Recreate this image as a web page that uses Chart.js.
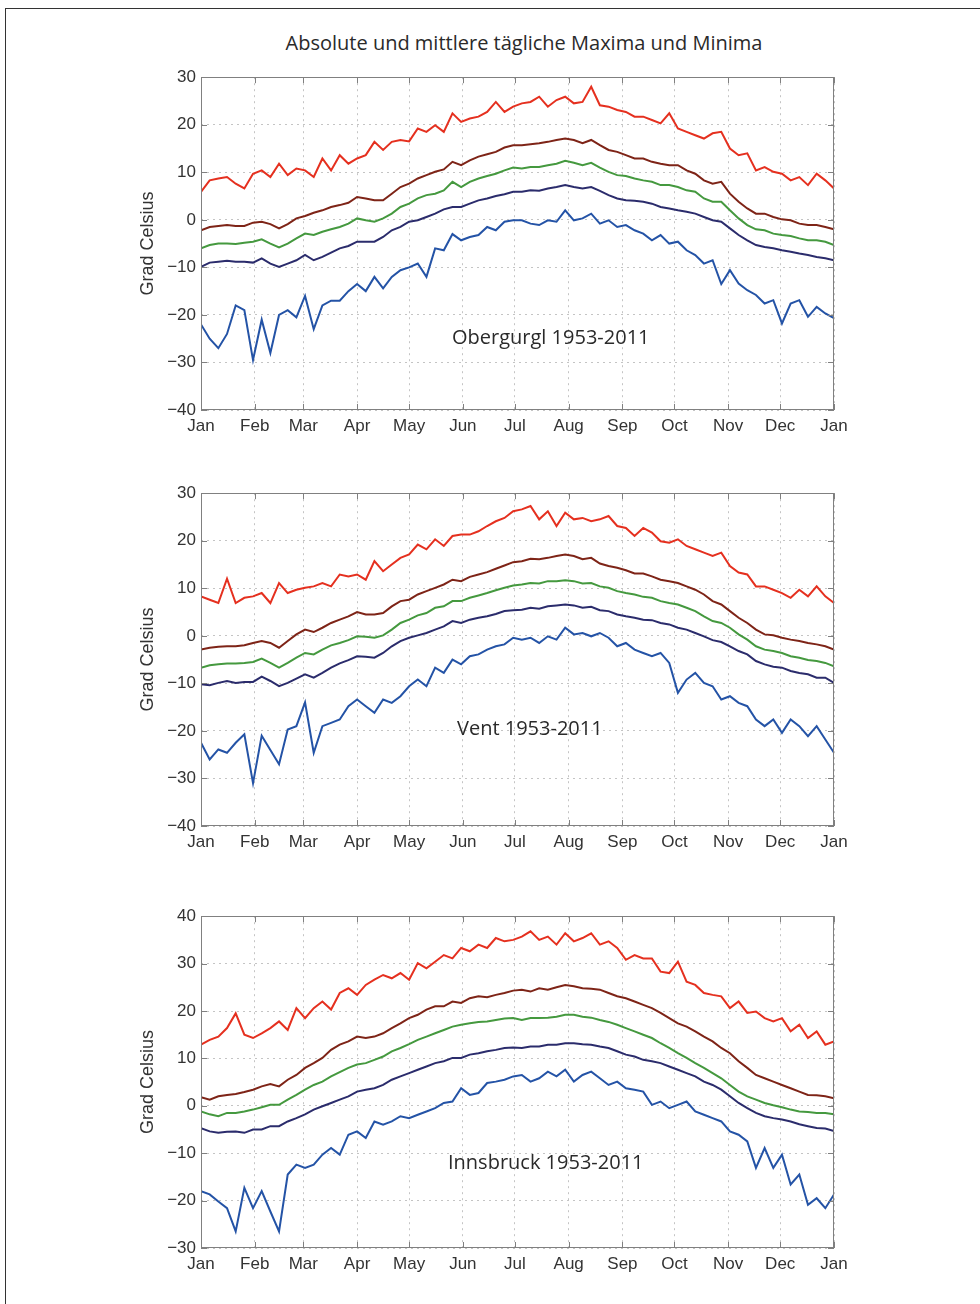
<!DOCTYPE html>
<html>
<head>
<meta charset="utf-8">
<script src="https://cdn.jsdelivr.net/npm/chart.js@4.4.1/dist/chart.umd.min.js"></script>
<style>
  body { margin: 0; background: #fff; }
  #page { position: relative; width: 980px; height: 1304px; overflow: hidden; background: #fff; }
  #frame { position: absolute; left: 5px; top: 8px; width: 990px; height: 1310px;
           border-left: 1.5px solid #333; border-top: 1.5px solid #333; }
  .txt { position: absolute; font-family: "Open Sans", "Noto Sans", sans-serif; color: #2a2a2a;
         white-space: nowrap; line-height: 24px; }
  #title { left: 224px; width: 600px; top: 31px; text-align: center; font-size: 20px; }
  canvas { position: absolute; }
</style>
</head>
<body>
<div id="page">
  <div id="frame"></div>
  <div id="title" class="txt">Absolute und mittlere tägliche Maxima und Minima</div>
  <canvas id="c1"></canvas>
  <canvas id="c2"></canvas>
  <canvas id="c3"></canvas>
  <div class="txt" style="left:452px; top:325px; font-size:20px;">Obergurgl 1953-2011</div>
  <div class="txt" style="left:457px; top:716px; font-size:20px;">Vent 1953-2011</div>
  <div class="txt" style="left:448px; top:1150px; font-size:20px;">Innsbruck 1953-2011</div>
</div>

<script>
/* ===============================
   Data (day of year, every 5 days)
================================ */
const days = [];
for (let d = 0; d <= 365; d += 5) days.push(d);

const monthStarts = [0, 31, 59, 90, 120, 151, 181, 212, 243, 273, 304, 334, 365];
const monthNames  = ["Jan","Feb","Mar","Apr","May","Jun","Jul","Aug","Sep","Oct","Nov","Dec","Jan"];

/* Obergurgl */
const absMax1 = [5.9,8.3,8.7,9.0,7.6,6.6,9.7,10.4,9.0,11.8,
  9.4,10.8,10.4,9.0,12.9,10.4,13.6,11.8,12.9,13.6,
  16.4,14.7,16.4,16.8,16.5,19.2,18.5,19.9,18.5,22.4,
  20.6,21.3,21.7,22.7,24.8,22.7,23.8,
  24.5,24.8,25.9,23.8,25.2,25.9,24.5,24.8,28.0,24.1,
  23.8,23.1,22.7,21.7,21.7,21.0,20.3,22.4,19.2,18.5,
  17.8,17.1,18.2,18.5,15.0,13.6,14.0,10.4,11.1,10.1,
  9.7,8.3,9.0,7.3,9.7,8.3,6.6];
const meanMax1 = [-2.2,-1.5,-1.3,-1.1,-1.3,-1.3,-0.6,-0.4,-0.9,-1.8,
  -0.9,0.3,0.8,1.5,2.0,2.7,3.1,3.6,4.8,4.5,
  4.1,4.1,5.5,6.9,7.6,8.7,9.4,10.1,10.6,12.2,
  11.5,12.5,13.3,13.8,14.3,15.2,15.7,
  15.7,15.9,16.1,16.4,16.8,17.1,16.8,16.1,16.8,15.7,
  14.7,14.3,13.6,12.9,12.9,12.2,11.8,11.5,11.5,10.4,
  9.7,8.3,7.6,8.0,5.5,3.8,2.4,1.3,1.3,0.6,
  0.1,-0.1,-0.8,-1.1,-1.1,-1.5,-2.0];
const mean1 = [-6.0,-5.3,-5.0,-5.0,-5.1,-4.8,-4.6,-4.1,-5.0,-5.8,
  -5.0,-3.9,-2.9,-3.2,-2.5,-2.0,-1.5,-0.8,0.3,-0.1,
  -0.4,0.3,1.3,2.7,3.4,4.5,5.2,5.5,6.2,8.0,
  6.9,8.0,8.7,9.2,9.7,10.4,11.0,
  10.8,11.1,11.1,11.5,11.8,12.4,12.0,11.5,12.0,11.0,
  10.1,9.4,9.2,8.7,8.3,8.0,7.3,7.3,6.9,6.2,
  5.9,4.5,3.8,3.8,2.0,0.3,-1.1,-2.0,-2.2,-2.9,
  -3.2,-3.4,-3.9,-4.3,-4.3,-4.6,-5.3];
const meanMin1 = [-9.9,-9.0,-8.8,-8.6,-8.8,-8.8,-9.0,-8.1,-9.2,-9.9,
  -9.2,-8.5,-7.4,-8.5,-7.8,-6.9,-6.0,-5.5,-4.6,-4.6,
  -4.6,-3.6,-2.2,-1.5,-0.4,-0.1,0.6,1.3,2.2,2.7,
  2.7,3.4,4.1,4.5,5.0,5.4,5.9,
  5.9,6.2,6.1,6.6,6.9,7.3,6.9,6.6,6.9,6.1,
  5.2,4.5,4.1,4.0,3.8,3.4,2.7,2.4,2.0,1.7,
  1.3,0.6,-0.1,-0.4,-1.8,-3.2,-4.3,-5.3,-5.7,-6.0,
  -6.4,-6.7,-7.1,-7.4,-7.8,-8.1,-8.5];
const absMin1 = [-22,-25,-27,-24,-18,-19,-29.5,-21,-28,-20,
  -19,-20.5,-16,-23,-18,-17,-17,-15,-13.5,-15,
  -12,-14.4,-12,-10.6,-10,-9.2,-12,-6,-6.4,-3,
  -4.3,-3.6,-3.2,-1.5,-2.2,-0.4,-0.1,
  -0.1,-0.8,-1.1,-0.1,-0.4,2.0,-0.1,0.3,1.3,-0.8,
  -0.1,-1.5,-1.1,-2.2,-2.9,-4.3,-3.2,-5.0,-4.6,-6.4,
  -7.4,-9.2,-8.5,-13.5,-10.6,-13.4,-14.8,-15.8,-17.6,-16.9,
  -21.8,-17.6,-16.9,-20.4,-18.3,-19.7,-20.7];

/* Vent */
const absMax2 = [8.3,7.6,6.9,12.0,6.9,8.0,8.3,9.0,6.9,11.1,
  9.0,9.7,10.1,10.4,11.1,10.4,12.9,12.5,12.9,11.8,
  15.7,13.6,15.0,16.4,17.1,19.2,18.2,20.3,18.9,21.0,
  21.3,21.3,22.0,23.1,24.1,24.8,26.2,
  26.6,27.3,24.5,26.2,23.1,25.9,24.5,24.8,24.1,24.5,
  25.2,23.1,22.7,21.0,22.7,21.7,19.9,19.6,20.3,18.9,
  18.2,17.5,16.8,17.5,14.7,13.3,12.9,10.4,10.4,9.7,
  9.0,8.0,9.7,8.3,10.4,8.3,6.9];
const meanMax2 = [-2.9,-2.5,-2.3,-2.2,-2.2,-2.0,-1.5,-1.1,-1.5,-2.5,
  -1.1,0.3,1.3,0.8,1.7,2.7,3.4,4.1,5.0,4.5,
  4.5,4.8,6.2,7.3,7.6,8.7,9.4,10.1,10.8,11.8,
  11.5,12.4,12.9,13.4,14.1,14.8,15.5,
  15.7,16.2,16.1,16.4,16.8,17.1,16.8,16.1,16.4,15.2,
  14.7,14.3,13.8,13.1,13.1,12.5,11.8,11.5,11.1,10.4,
  9.7,8.7,7.3,6.6,5.2,3.8,2.7,1.3,0.3,0.1,
  -0.4,-0.8,-1.1,-1.5,-1.8,-2.2,-2.9];
const mean2 = [-6.7,-6.2,-6.0,-5.8,-5.8,-5.7,-5.5,-4.8,-5.7,-6.7,
  -5.7,-4.6,-3.6,-3.9,-2.9,-2.0,-1.5,-0.9,-0.1,-0.2,
  -0.4,0.1,1.3,2.7,3.4,4.3,4.8,5.9,6.2,7.3,
  7.3,8.0,8.5,9.0,9.6,10.1,10.6,
  10.8,11.1,11.0,11.5,11.5,11.7,11.5,11.0,11.1,10.4,
  10.1,9.4,9.0,8.7,8.2,8.0,7.3,6.9,6.6,5.9,
  5.2,4.1,3.1,2.7,1.7,0.3,-0.8,-2.2,-2.9,-3.2,
  -3.6,-4.3,-4.6,-5.1,-5.3,-5.7,-6.4];
const meanMin2 = [-10.2,-10.4,-9.9,-9.5,-9.9,-9.7,-9.7,-8.6,-9.5,-10.6,
  -9.9,-9.0,-8.1,-8.8,-7.8,-6.7,-5.8,-5.1,-4.3,-4.4,
  -4.6,-3.6,-2.2,-1.1,-0.4,0.1,0.6,1.3,2.0,3.1,
  2.7,3.4,3.8,4.1,4.6,5.2,5.4,
  5.5,5.9,5.7,6.2,6.4,6.6,6.4,5.9,6.1,5.4,
  5.2,4.5,4.1,3.8,3.4,3.3,2.7,2.4,1.7,1.3,
  0.6,-0.1,-0.9,-1.3,-2.2,-3.2,-3.9,-5.3,-6.0,-6.5,
  -6.7,-7.4,-7.8,-8.1,-8.8,-8.8,-9.9];
const absMin2 = [-22.5,-26,-23.9,-24.6,-22.5,-20.7,-31,-21,-24,-27,
  -19.7,-19.0,-14,-24.6,-19.0,-18.3,-17.6,-14.8,-13.4,-14.8,
  -16.2,-13.4,-14.1,-12.7,-10.6,-9.2,-10.6,-6.7,-7.8,-5.0,
  -6.0,-4.3,-3.9,-2.9,-2.2,-1.8,-0.4,
  -0.8,-0.4,-1.5,-0.1,-0.8,1.7,0.3,0.6,-0.1,0.6,
  -0.4,-2.2,-1.5,-2.9,-3.6,-4.3,-3.6,-5.7,-12,-9.2,
  -7.8,-9.9,-10.6,-13.4,-12.7,-14.1,-14.8,-17.6,-19.0,-17.6,
  -20.4,-17.6,-19.0,-21.1,-19.0,-21.8,-24.6];

/* Innsbruck */
const absMax3 = [12.9,13.9,14.6,16.4,19.5,15.0,14.3,15.3,16.4,17.8,
  16.0,20.6,18.5,20.6,22.0,20.3,23.8,24.8,23.4,25.5,
  26.6,27.6,26.9,28.0,26.6,30.1,29.0,30.4,31.8,31.1,
  33.3,32.6,34.0,33.3,35.4,34.7,35.0,
  35.7,36.8,35.0,35.7,34.0,36.4,34.7,35.4,36.4,34.0,
  34.7,33.3,30.8,31.8,31.1,31.1,28.3,28.0,30.4,26.2,
  25.5,23.8,23.4,23.1,20.6,22.0,19.6,19.9,18.5,17.8,
  18.5,15.7,17.1,14.3,15.7,12.9,13.6];
const meanMax3 = [1.8,1.3,2.0,2.3,2.5,2.9,3.4,4.1,4.6,4.1,
  5.5,6.5,8.0,9.0,10.1,11.8,12.9,13.6,14.6,14.3,
  14.6,15.3,16.4,17.4,18.5,19.2,20.3,21.0,21.0,22.0,
  21.7,22.7,23.1,22.9,23.4,23.8,24.3,
  24.5,24.1,24.8,24.5,25.0,25.5,25.2,24.8,24.7,24.5,
  23.8,23.1,22.7,22.0,21.3,20.6,19.6,18.5,17.4,16.7,
  15.7,14.6,13.6,12.2,11.1,9.4,8.0,6.5,5.8,5.1,
  4.4,3.7,3.0,2.3,2.2,2.0,1.6];
const mean3 = [-1.2,-1.8,-2.2,-1.5,-1.5,-1.2,-0.8,-0.3,0.2,0.2,
  1.3,2.3,3.4,4.4,5.1,6.2,7.1,8.0,8.7,9.0,
  9.7,10.4,11.5,12.2,13.0,13.9,14.6,15.3,16.0,16.7,
  17.1,17.4,17.7,17.8,18.1,18.4,18.5,
  18.1,18.5,18.5,18.6,18.8,19.2,19.2,18.8,18.6,18.1,
  17.7,17.1,16.4,15.7,15.0,14.3,13.2,12.2,11.1,10.1,
  9.0,8.0,6.9,5.8,4.4,3.0,2.0,1.3,0.6,0.1,
  -0.3,-0.8,-1.2,-1.3,-1.5,-1.5,-1.8];
const meanMin3 = [-4.7,-5.4,-5.7,-5.5,-5.4,-5.7,-5.0,-5.0,-4.3,-4.3,
  -3.3,-2.6,-1.8,-0.8,-0.1,0.6,1.3,2.0,3.0,3.4,
  3.7,4.4,5.5,6.2,6.9,7.6,8.3,9.0,9.4,10.1,
  10.1,10.8,11.1,11.5,11.8,12.2,12.3,
  12.2,12.5,12.5,12.9,12.9,13.2,13.2,13.0,12.9,12.5,
  12.2,11.5,10.8,10.4,9.7,9.4,9.0,8.3,7.6,6.9,
  6.2,5.1,4.4,3.4,2.0,0.6,-0.5,-1.5,-2.2,-2.6,
  -2.9,-3.3,-3.9,-4.3,-4.7,-4.8,-5.3];
const absMin3 = [-18.0,-18.7,-20.2,-21.6,-26.5,-17.3,-21.6,-18.0,-22.3,-26.5,
  -14.5,-12.4,-13.1,-12.4,-10.3,-8.9,-10.3,-6.1,-5.4,-6.8,
  -3.3,-4.0,-3.3,-2.2,-2.6,-1.9,-1.2,-0.5,0.6,0.9,
  3.7,2.3,2.7,4.8,5.1,5.5,6.2,
  6.5,5.1,5.8,7.2,6.2,7.6,5.1,6.5,7.2,5.8,
  4.4,5.1,3.7,3.4,3.0,0.2,0.9,-0.5,0.2,0.9,
  -1.2,-1.9,-2.6,-3.3,-5.4,-6.1,-7.5,-13.1,-8.9,-13.1,
  -10.3,-16.6,-14.5,-20.9,-19.5,-21.6,-18.7];

const seriesColors = ["#e5301f", "#7e2417", "#45993f", "#2b2c6c", "#2453a6"];

/* ===============================
   Panel layout (page pixels)
================================ */
const panels = [
  { id: "c1", top: 77,  bottom: 410,  min: -40, max: 30, series: [absMax1, meanMax1, mean1, meanMin1, absMin1] },
  { id: "c2", top: 493, bottom: 826,  min: -40, max: 30, series: [absMax2, meanMax2, mean2, meanMin2, absMin2] },
  { id: "c3", top: 916, bottom: 1248, min: -30, max: 40, series: [absMax3, meanMax3, mean3, meanMin3, absMin3] }
];

const AREA_LEFT = 201, AREA_RIGHT = 834;
const CANVAS_LEFT = 130, CANVAS_W = 740;
const PAD_TOP = 15, X_AXIS_H = 35;
const TICK_FONT = { family: "'Liberation Sans', Arial, Helvetica, sans-serif", size: 17 };

/* MATLAB-like box with inward ticks */
const boxPlugin = {
  id: "matlabBox",
  afterDatasetsDraw(chart) {
    const { ctx, chartArea: a, scales } = chart;
    ctx.save();
    ctx.strokeStyle = "#808080";
    ctx.lineWidth = 1;
    ctx.strokeRect(Math.round(a.left) + 0.5, Math.round(a.top) + 0.5,
                   Math.round(a.width) - 1, Math.round(a.height) - 1);
    ctx.beginPath();
    scales.x.ticks.forEach(t => {
      const px = Math.round(scales.x.getPixelForValue(t.value)) + 0.5;
      ctx.moveTo(px, a.bottom); ctx.lineTo(px, a.bottom - 6);
      ctx.moveTo(px, a.top);    ctx.lineTo(px, a.top + 6);
    });
    scales.y.ticks.forEach(t => {
      const py = Math.round(scales.y.getPixelForValue(t.value)) + 0.5;
      ctx.moveTo(a.left, py);  ctx.lineTo(a.left + 6, py);
      ctx.moveTo(a.right, py); ctx.lineTo(a.right - 6, py);
    });
    ctx.stroke();
    ctx.restore();
  }
};

function drawPanel(p) {
  const canvas = document.getElementById(p.id);
  const h = (p.bottom - p.top) + PAD_TOP + X_AXIS_H;
  canvas.width = CANVAS_W;
  canvas.height = h;
  canvas.style.left = CANVAS_LEFT + "px";
  canvas.style.top = (p.top - PAD_TOP) + "px";

  const datasets = p.series.map((vals, i) => ({
    data: days.map((d, k) => ({ x: d, y: vals[k] })),
    borderColor: seriesColors[i],
    borderWidth: 2,
    pointRadius: 0,
    tension: 0,
    fill: false
  }));

  return new Chart(canvas, {
    type: "line",
    data: { datasets },
    plugins: [boxPlugin],
    options: {
      responsive: false,
      animation: false,
      devicePixelRatio: 1,
      layout: { padding: { top: PAD_TOP, right: CANVAS_LEFT + CANVAS_W - AREA_RIGHT, bottom: 0, left: 0 } },
      plugins: { legend: { display: false }, tooltip: { enabled: false } },
      scales: {
        x: {
          type: "linear",
          min: 0,
          max: 365,
          afterBuildTicks: s => { s.ticks = monthStarts.map(v => ({ value: v })); },
          afterFit: s => { s.height = X_AXIS_H; },
          grid: { color: "#c4c4c4", lineWidth: 1, drawTicks: false },
          border: { display: false, dash: [2, 4] },
          ticks: {
            autoSkip: false, maxRotation: 0, padding: 6, color: "#333",
            font: TICK_FONT,
            callback: v => monthNames[monthStarts.indexOf(v)]
          }
        },
        y: {
          min: p.min,
          max: p.max,
          afterFit: s => { s.width = AREA_LEFT - CANVAS_LEFT; },
          grid: { color: "#c4c4c4", lineWidth: 1, drawTicks: false },
          border: { display: false, dash: [2, 4] },
          ticks: {
            stepSize: 10, padding: 5, color: "#333",
            font: TICK_FONT,
            callback: v => (v < 0 ? "\u2212" + Math.abs(v) : String(v))
          },
          title: {
            display: true, text: "Grad Celsius", color: "#333",
            font: { family: "'Liberation Sans', Arial, Helvetica, sans-serif", size: 18 },
            padding: { top: 7, bottom: 0 }
          }
        }
      }
    }
  });
}

panels.forEach(drawPanel);
</script>
</body>
</html>
